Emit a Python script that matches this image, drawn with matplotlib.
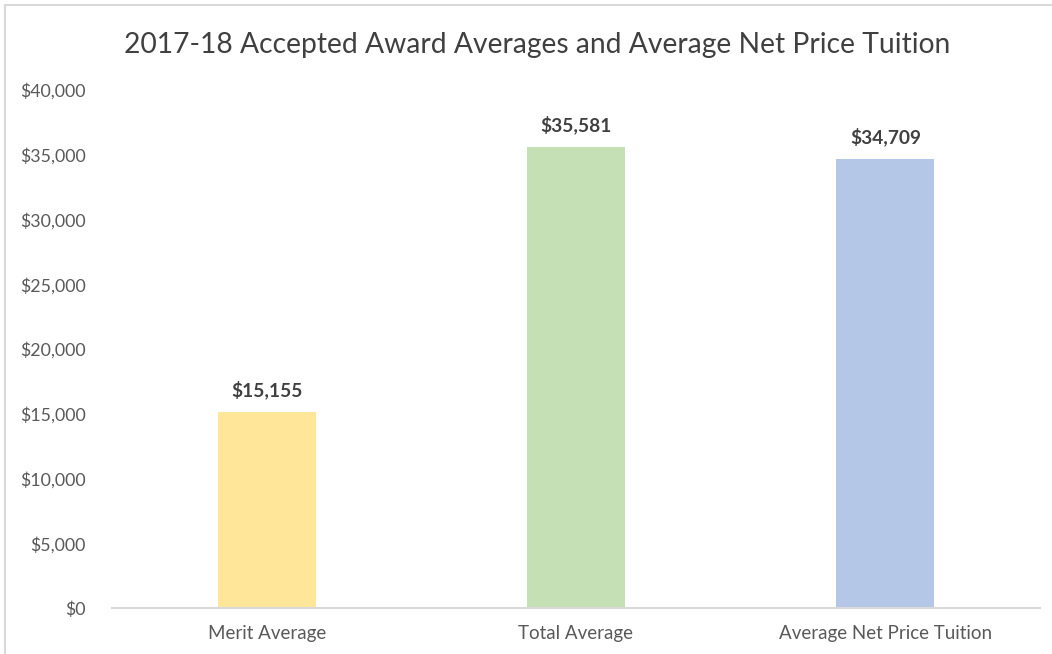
import matplotlib
matplotlib.use("Agg")
import matplotlib.pyplot as plt
from matplotlib.patches import Rectangle
from matplotlib.ticker import FuncFormatter, MultipleLocator

categories = ["Merit Average", "Total Average", "Average Net Price Tuition"]
values = [15155, 35581, 34709]
colors = ["#FFE699", "#C5E0B4", "#B4C7E7"]
title = "2017-18 Accepted Award Averages and Average Net Price Tuition"

plt.rcParams['font.family'] = ['Lato', 'DejaVu Sans']

fig = plt.figure(figsize=(10.52, 6.54), dpi=100)
ax = fig.add_axes([112/1052, 1-608/654, 928/1052, (608-90)/654])

x = list(range(len(categories)))
ax.bar(x, values, width=0.317, color=colors, zorder=2)
for xi, v in zip(x, values):
    ax.annotate(f"${v:,}", (xi, v), xytext=(0, 9), textcoords="offset points",
                ha="center", va="bottom", fontsize=13.8, fontweight="bold", color="#404040")

ax.set_xlim(-0.5, 2.5)
ax.set_ylim(0, 40000)
ax.yaxis.set_major_locator(MultipleLocator(5000))
ax.yaxis.set_major_formatter(FuncFormatter(lambda v, p: f"${int(v):,}"))
ax.set_xticks(x)
ax.set_xticklabels(categories)
ax.tick_params(axis="both", length=0, labelcolor="#595959")
ax.tick_params(axis="y", pad=19, labelsize=12.8)
ax.tick_params(axis="x", pad=12, labelsize=13.5)
for s in ["top", "right", "left"]:
    ax.spines[s].set_visible(False)
ax.spines["bottom"].set_color("#D9D9D9")
ax.spines["bottom"].set_linewidth(1.5)

fig.text(0.511, 1-45/654, title, ha="center", va="center", fontsize=20.3, color="#404040")

fig.patches.append(Rectangle((5/1052, -0.1), 1.2, 1-5/654+0.1, transform=fig.transFigure,
                             fill=False, edgecolor="#D9D9D9", linewidth=1.5))

fig.savefig("out.png", dpi=100)
